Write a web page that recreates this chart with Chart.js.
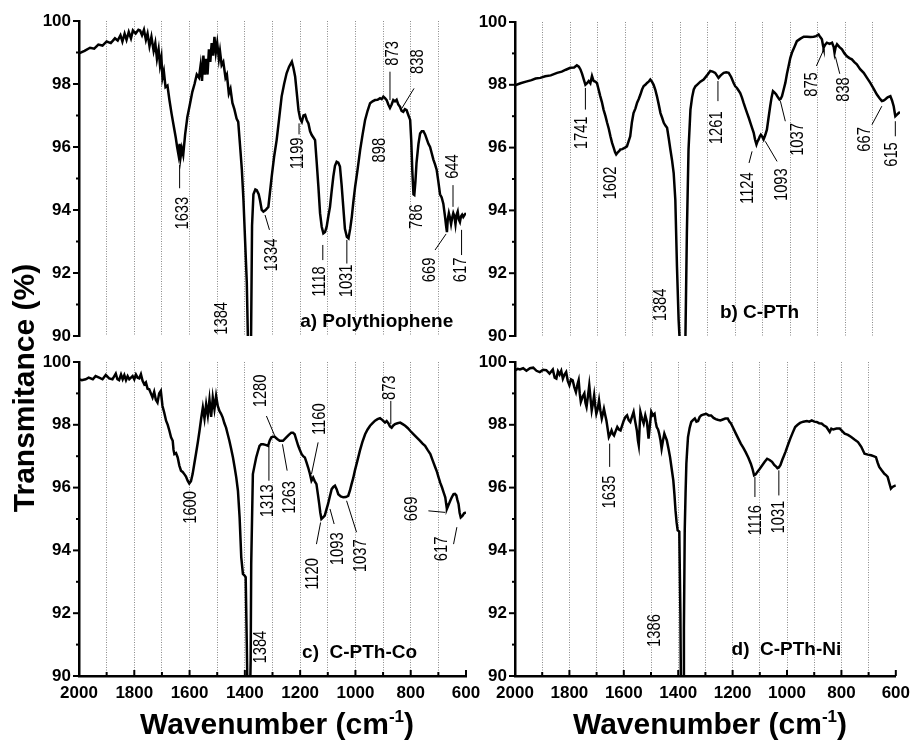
<!DOCTYPE html>
<html>
<head>
<meta charset="utf-8">
<script src="https://cdn.jsdelivr.net/npm/chart.js@4.4.1/dist/chart.umd.min.js"></script>
<style>
  body { margin: 0; background: #fff; }
  #wrap { position: relative; width: 917px; height: 743px; overflow: hidden; font-family: 'Liberation Sans', Arial, sans-serif; }
  #wrap canvas { position: absolute; left: 0; top: 0; }
  .xtitle { position: absolute; width: 400px; text-align: center; top: 709px; font-weight: bold; font-size: 30px; line-height: 30px; }
  .xtitle sup { font-size: 17px; vertical-align: 12px; line-height: 0; }
  #ytitle { position: absolute; left: -126px; top: 373px; width: 300px; height: 30px; text-align: center; font-weight: bold; font-size: 30px; line-height: 30px; transform: rotate(-90deg); }
</style>
</head>
<body>
<div id="wrap">
  <canvas id="chartA" width="917" height="743"></canvas>
  <canvas id="chartB" width="917" height="743"></canvas>
  <canvas id="chartC" width="917" height="743"></canvas>
  <canvas id="chartD" width="917" height="743"></canvas>
  <div id="ytitle">Transmitance (%)</div>
  <div class="xtitle" style="left:77px">Wavenumber (cm<sup>-1</sup>)</div>
  <div class="xtitle" style="left:510px">Wavenumber (cm<sup>-1</sup>)</div>
</div>
<script>
// spectra: wavenumber (cm-1) and transmittance (%)
let wnA = [2000,1980,1960,1945,1930,1915,1900,1885,1870,1860,1850,1843,1835,1828,1820,1812,1805,1795,1785,1779,1772,1765,1758,1752,1745,1738,1730,1724,1718,1712,1707,1702,1698,1693,1687,1680,1673,1665,1658,1650,1645,1640,1636,1633,1628,1623,1616,1608,1600,1590,1582,1574,1566,1560,1555,1550,1545,1540,1535,1530,1525,1520,1515,1510,1505,1500,1494,1490,1484,1478,1470,1465,1458,1452,1445,1438,1430,1424,1417,1411,1405,1399,1393,1388,1383,1378,1374,1369,1362,1357,1350,1345,1339,1333,1325,1315,1303,1294,1285,1276,1267,1258,1249,1240,1230,1224,1218,1212,1206,1200,1194,1188,1182,1176,1170,1164,1158,1152,1146,1140,1134,1128,1122,1116,1110,1104,1098,1092,1086,1080,1074,1068,1062,1056,1050,1044,1038,1031,1025,1019,1013,1007,1001,992,983,974,965,956,947,938,929,920,911,905,899,893,887,881,875,869,863,857,851,845,839,833,827,821,815,808,802,798,794,790,787,783,779,772,766,760,754,748,742,736,730,724,718,712,706,700,694,688,682,676,672,669,666,662,658,654,650,646,642,638,634,630,626,622,618,614,610,605,600];
let trA = [98.97,99.05,99.15,99.12,99.25,99.22,99.35,99.3,99.45,99.38,99.55,99.35,99.6,99.4,99.65,99.45,99.7,99.6,99.72,99.7,99.55,99.72,99.4,99.6,99.2,99.5,99.05,99.3,98.8,99.1,98.6,98.85,98.2,98.4,97.9,97.95,97.5,97.05,96.7,96.3,96.0,95.75,96.1,95.65,95.95,95.75,96.4,96.95,97.3,97.75,98.0,98.3,98.2,98.6,98.1,98.9,98.3,98.8,98.3,99.1,98.7,99.3,98.9,99.5,99.0,99.3,98.8,99.05,98.6,98.7,98.2,98.3,97.7,97.85,97.4,97.2,96.9,96.8,96.0,95.3,94.3,93.0,91.7,89.5,88.5,89.5,93.5,94.5,94.65,94.63,94.5,94.3,94.0,93.95,94.0,94.1,95.05,95.7,96.22,96.9,97.6,98.0,98.34,98.55,98.71,98.5,98.23,97.7,97.17,96.9,96.8,97.0,97.02,96.85,96.75,96.5,96.38,96.3,96.22,95.5,94.74,93.9,93.47,93.26,93.3,93.47,93.8,94.1,94.6,95.06,95.4,95.53,95.5,95.38,94.8,94.1,93.4,93.15,93.1,93.4,93.79,94.3,94.74,95.3,95.9,96.4,96.86,97.15,97.39,97.45,97.49,97.5,97.55,97.52,97.6,97.55,97.49,97.35,97.24,97.35,97.49,97.45,97.5,97.35,97.28,97.15,97.12,97.2,97.17,97.0,96.86,96.2,95.2,94.5,94.48,94.9,95.5,96.1,96.43,96.5,96.5,96.4,96.25,96.1,96.0,95.8,95.6,95.45,95.27,94.9,94.5,94.4,94.2,93.8,93.5,93.3,93.7,93.9,93.75,93.55,93.75,93.9,93.8,93.55,93.85,93.95,93.7,93.62,93.8,93.85,93.78,93.85,93.9];

let wnB = [2000,1980,1960,1940,1925,1908,1890,1870,1847,1830,1815,1799,1785,1775,1768,1762,1756,1750,1744,1738,1732,1726,1720,1714,1708,1702,1696,1690,1684,1678,1671,1665,1659,1653,1647,1641,1636,1632,1626,1620,1617,1610,1600,1593,1587,1581,1575,1569,1562,1556,1550,1544,1538,1532,1526,1520,1514,1508,1502,1496,1490,1484,1478,1471,1465,1459,1453,1447,1441,1435,1429,1423,1417,1411,1405,1399,1393,1387,1381,1375,1369,1362,1356,1350,1344,1338,1326,1314,1302,1290,1281,1272,1266,1260,1252,1241,1232,1223,1214,1205,1199,1193,1187,1181,1175,1169,1162,1156,1150,1144,1138,1132,1127,1122,1118,1114,1110,1106,1101,1096,1090,1084,1078,1072,1067,1062,1056,1050,1044,1038,1034,1029,1023,1017,1011,1005,999,993,984,975,962,950,938,926,914,905,896,890,884,880,878,872,866,856,847,841,838,834,829,820,811,802,793,784,775,766,757,745,732,720,708,696,684,675,666,660,654,645,635,629,623,619,617,611,605,600];
let trB = [97.98,98.05,98.1,98.15,98.2,98.22,98.27,98.3,98.38,98.42,98.48,98.54,98.55,98.62,98.58,98.49,98.35,98.17,98.0,98.05,98.12,98.05,98.28,98.12,98.1,98.06,97.85,97.64,97.45,97.21,97.0,96.79,96.6,96.36,96.15,95.99,95.85,95.78,95.85,95.9,95.94,95.95,96.0,96.04,96.2,96.36,96.8,97.1,97.25,97.43,97.55,97.69,97.85,97.96,98.0,98.06,98.1,98.17,98.1,98.0,97.85,97.64,97.4,97.1,96.95,96.79,96.7,96.63,96.3,95.94,95.6,95.19,94.34,92.21,90.51,89.5,88.5,88.5,89.5,93.28,95.94,97.21,97.6,97.85,97.95,98.0,98.1,98.17,98.3,98.44,98.42,98.38,98.3,98.22,98.3,98.38,98.4,98.38,98.25,98.06,97.95,97.9,97.82,97.74,97.6,97.43,97.25,97.1,96.95,96.79,96.63,96.47,96.25,96.1,96.2,96.26,96.35,96.41,96.35,96.26,96.4,96.57,96.95,97.32,97.6,97.8,97.75,97.69,97.6,97.53,97.55,97.64,97.85,98.06,98.35,98.6,98.85,99.02,99.2,99.39,99.47,99.53,99.53,99.52,99.53,99.55,99.6,99.52,99.45,99.25,99.18,99.28,99.34,99.3,99.34,99.2,99.02,99.2,99.29,99.2,99.13,99.0,98.91,98.85,98.81,98.72,98.65,98.5,98.38,98.22,98.06,97.88,97.69,97.58,97.48,97.5,97.53,97.6,97.64,97.5,97.32,97.1,97.0,97.05,97.1,97.13];

let wnC = [2000,1990,1976,1965,1950,1940,1927,1915,1903,1891,1879,1867,1861,1855,1848,1842,1836,1830,1824,1818,1812,1806,1800,1794,1788,1782,1776,1770,1764,1758,1752,1746,1740,1734,1728,1722,1716,1710,1704,1698,1692,1685,1679,1673,1667,1661,1658,1655,1649,1643,1637,1631,1625,1619,1613,1607,1601,1595,1589,1583,1577,1570,1564,1558,1552,1546,1540,1534,1528,1522,1516,1510,1504,1498,1492,1486,1480,1474,1468,1462,1456,1450,1443,1437,1431,1425,1419,1413,1407,1401,1397,1393,1389,1383,1379,1377,1371,1365,1359,1353,1347,1341,1334,1325,1316,1310,1304,1298,1292,1283,1274,1262,1250,1241,1232,1226,1220,1213,1207,1201,1195,1189,1183,1177,1171,1165,1159,1153,1147,1141,1136,1131,1127,1123,1117,1111,1105,1099,1093,1086,1080,1074,1068,1062,1053,1044,1035,1026,1020,1014,1008,1002,993,984,975,965,956,947,938,929,920,911,902,893,887,881,875,869,863,857,848,838,829,820,811,802,793,784,775,766,757,748,739,729,720,711,705,699,693,687,681,675,672,669,663,657,651,645,640,635,631,627,623,619,613,607,600];
let trC = [99.45,99.42,99.45,99.5,99.45,99.55,99.5,99.45,99.59,99.48,99.45,99.63,99.45,99.42,99.6,99.45,99.58,99.42,99.55,99.45,99.5,99.55,99.45,99.6,99.5,99.48,99.61,99.4,99.29,99.35,99.15,99.13,99.0,98.87,99.05,98.8,98.71,99.0,99.08,98.6,98.4,98.13,98.0,97.81,97.6,97.49,97.2,97.07,97.1,96.96,96.7,96.54,96.5,96.43,96.35,96.22,96.13,96.2,96.43,96.75,97.07,97.45,97.81,98.2,98.55,98.2,98.65,98.3,98.8,98.25,98.87,98.5,98.92,98.6,98.44,98.35,98.23,98.05,97.91,97.7,97.49,97.25,96.96,96.65,96.32,95.9,95.05,93.78,93.25,93.2,93.15,91.0,88.5,88.5,90.5,93.57,96.43,96.7,96.96,97.15,97.33,97.38,97.38,97.36,97.33,97.5,97.6,97.62,97.62,97.55,97.49,97.49,97.6,97.68,97.75,97.75,97.7,97.5,97.33,97.2,97.07,97.0,96.96,96.8,96.64,96.45,96.22,96.32,96.2,96.11,95.8,95.48,95.2,95.0,95.05,95.11,95.3,95.48,95.7,95.95,96.02,96.06,95.95,95.79,95.72,95.69,95.7,95.74,95.9,96.11,96.3,96.54,96.85,97.17,97.45,97.7,97.85,97.97,98.05,98.13,98.18,98.21,98.15,98.07,98.12,98.05,97.95,97.91,97.98,98.02,98.05,98.07,98.02,97.97,97.9,97.81,97.73,97.65,97.57,97.49,97.4,97.33,97.2,97.07,96.85,96.64,96.5,96.32,96.15,96.01,95.85,95.69,95.5,95.32,95.45,95.58,95.7,95.79,95.8,95.75,95.6,95.48,95.2,95.05,95.1,95.18,95.21];

let wnD = [2000,1990,1982,1970,1958,1945,1933,1921,1909,1897,1885,1873,1861,1854,1848,1842,1836,1830,1824,1818,1812,1806,1800,1794,1788,1782,1776,1770,1766,1762,1758,1751,1745,1741,1737,1732,1727,1722,1718,1713,1709,1705,1701,1696,1691,1686,1681,1677,1673,1668,1664,1659,1655,1650,1645,1640,1636,1630,1624,1618,1612,1606,1600,1594,1588,1582,1576,1570,1564,1558,1552,1548,1545,1542,1539,1533,1527,1521,1515,1509,1504,1499,1493,1487,1483,1479,1474,1470,1465,1461,1456,1451,1446,1442,1436,1430,1424,1418,1414,1410,1406,1402,1396,1392,1389,1382,1379,1376,1373,1370,1367,1364,1358,1352,1346,1339,1333,1327,1321,1315,1306,1297,1288,1279,1270,1262,1255,1245,1236,1227,1218,1212,1206,1197,1188,1179,1170,1161,1152,1142,1133,1127,1121,1115,1109,1100,1091,1082,1073,1064,1055,1047,1039,1035,1030,1024,1018,1012,1006,997,988,979,970,961,952,940,927,918,909,900,891,882,873,864,855,849,843,837,830,818,806,797,788,776,764,752,739,727,715,703,691,682,673,667,661,652,642,636,630,624,618,612,606,600];
let trD = [99.73,99.78,99.76,99.8,99.72,99.8,99.82,99.72,99.68,99.75,99.74,99.63,99.76,99.5,99.47,99.7,99.6,99.72,99.47,99.6,99.68,99.4,99.26,99.45,99.42,99.2,99.04,99.3,99.42,99.0,98.73,98.9,99.0,98.7,98.57,98.9,99.26,98.8,98.46,98.7,98.94,98.6,98.35,98.5,98.78,98.45,98.2,98.35,98.51,98.3,98.14,97.85,97.61,97.7,97.82,97.7,97.66,97.8,97.93,97.85,97.82,97.98,98.14,98.25,98.3,98.15,98.09,98.25,98.41,98.1,97.82,97.5,97.35,97.9,98.41,98.2,98.04,98.3,98.1,97.56,98.0,98.41,98.3,98.35,98.1,97.93,97.85,97.72,97.5,97.24,97.5,97.72,97.6,97.51,97.25,96.97,96.6,96.23,95.8,95.28,94.9,94.64,94.6,92.0,88.5,88.5,91.5,94.64,95.8,96.76,97.2,97.61,97.9,98.09,98.15,98.2,98.1,98.12,98.25,98.3,98.33,98.35,98.3,98.3,98.22,98.18,98.16,98.14,98.17,98.2,98.2,98.1,98.04,97.88,97.72,97.56,97.4,97.27,97.13,96.95,96.76,96.6,96.39,96.42,96.5,96.6,96.71,96.82,96.92,96.88,96.82,96.72,96.66,96.62,96.64,96.72,96.87,97.0,97.13,97.35,97.56,97.75,97.93,98.0,98.06,98.1,98.12,98.1,98.14,98.1,98.09,98.05,98.04,97.98,97.93,97.85,97.77,97.88,97.85,97.88,97.88,97.8,97.72,97.68,97.61,97.53,97.45,97.3,97.08,97.05,97.03,97.0,96.97,96.8,96.66,96.55,96.44,96.4,96.34,96.15,95.97,96.02,96.05,96.07];

// peak labels: text, x, y, optional leader line [x1, y1, x2, y2]
let peaksA = [
  ['1633', 1623, 93.9, [1636, 95.43, 1636, 94.69]],
  ['1384', 1484, 90.56],
  ['1334', 1303, 92.57, [1327, 93.84, 1311, 93.37]],
  ['1199', 1206, 95.8, [1204, 96.75, 1204, 96.4]],
  ['1118', 1128, 91.73, [1118, 92.89, 1118, 92.41]],
  ['1031', 1031, 91.75, [1031, 93.05, 1031, 92.3]],
  ['898', 911, 95.9],
  ['873', 863, 98.97, [875, 98.39, 875, 97.49]],
  ['838', 772, 98.71, [788, 97.86, 832, 97.23]],
  ['786', 778, 93.79],
  ['644', 646, 95.38, [647, 94.79, 647, 94.1]],
  ['669', 730, 92.1, [712, 92.73, 672, 93.24]],
  ['617', 618, 92.1, [616, 93.37, 616, 92.57]]
];
let peaksB = [
  ['1741', 1756, 96.47, [1744, 97.9, 1744, 97.21]],
  ['1602', 1650, 94.87],
  ['1384', 1469, 90.99],
  ['1261', 1266, 96.63, [1262, 98.12, 1262, 97.48]],
  ['1124', 1153, 94.71, [1149, 95.51, 1138, 95.88]],
  ['1093', 1029, 94.82, [1047, 95.56, 1090, 96.2]],
  ['1037', 969, 96.26, [1017, 96.84, 1035, 97.48]],
  ['875', 920, 98.01, [904, 98.6, 880, 99.07]],
  ['838', 805, 97.85, [835, 98.9, 819, 98.35]],
  ['667', 726, 96.26, [702, 96.73, 666, 97.32]],
  ['615', 629, 95.78, [617, 96.84, 617, 96.36]]
];
let peaksC = [
  ['1600', 1595, 95.37],
  ['1384', 1341, 90.92],
  ['1313', 1316, 95.58, [1313, 97.33, 1313, 96.22]],
  ['1280', 1341, 99.08, [1322, 98.28, 1292, 97.65]],
  ['1263', 1238, 95.69, [1247, 96.54, 1264, 97.38]],
  ['1160', 1129, 98.18, [1135, 97.44, 1159, 96.43]],
  ['1120', 1153, 93.25, [1141, 94.2, 1126, 94.89]],
  ['1093', 1062, 94.05, [1077, 94.84, 1092, 95.32]],
  ['1037', 980, 93.83, [996, 94.58, 1032, 95.58]],
  ['873', 875, 99.18, [872, 98.76, 872, 98.02]],
  ['669', 796, 95.32, [736, 95.26, 675, 95.21]],
  ['617', 687, 94.05, [645, 94.2, 633, 94.74]]
];
let peaksD = [
  ['1635', 1649, 95.86, [1652, 97.4, 1652, 96.66]],
  ['1386', 1487, 91.45],
  ['1116', 1115, 94.96, [1118, 96.34, 1118, 95.7]],
  ['1031', 1030, 95.06, [1030, 96.55, 1030, 95.75]]
];

Chart.defaults.font.family = "'Liberation Sans', Arial, sans-serif";
Chart.defaults.color = '#000';

// draws tick marks, rotated peak labels and the panel caption
let decorate = {
  id: 'decorate',
  afterDraw(chart, args, opts) {
    let ctx = chart.ctx;
    let xs = chart.scales.x, ys = chart.scales.y;
    let area = chart.chartArea;
    ctx.save();
    ctx.strokeStyle = '#000';
    ctx.lineWidth = 2;
    for (let v = 90; v <= 100; v++) {
      let py = ys.getPixelForValue(v);
      let len = v % 2 === 0 ? 6 : 3;
      ctx.beginPath(); ctx.moveTo(area.left - len, py); ctx.lineTo(area.left, py); ctx.stroke();
    }
    if (opts.xTicks) {
      for (let v = 600; v <= 2000; v += 100) {
        let px = xs.getPixelForValue(v);
        let len = v % 200 === 0 ? 6 : 4;
        ctx.beginPath(); ctx.moveTo(px, area.bottom); ctx.lineTo(px, area.bottom - len); ctx.stroke();
      }
    }
    ctx.lineWidth = 1;
    ctx.fillStyle = '#000';
    opts.peaks.forEach(function(p) {
      if (p[3]) {
        ctx.beginPath();
        ctx.moveTo(xs.getPixelForValue(p[3][0]), ys.getPixelForValue(p[3][1]));
        ctx.lineTo(xs.getPixelForValue(p[3][2]), ys.getPixelForValue(p[3][3]));
        ctx.stroke();
      }
      ctx.save();
      ctx.translate(xs.getPixelForValue(p[1]), ys.getPixelForValue(p[2]));
      ctx.rotate(-Math.PI / 2);
      ctx.scale(0.82, 1);
      ctx.font = "18px 'Liberation Sans', Arial, sans-serif";
      ctx.textAlign = 'center';
      ctx.textBaseline = 'middle';
      ctx.fillText(p[0], 0, 0);
      ctx.restore();
    });
    ctx.font = "bold 19px 'Liberation Sans', Arial, sans-serif";
    ctx.textAlign = 'left';
    ctx.textBaseline = 'middle';
    ctx.fillText(opts.caption[0], xs.getPixelForValue(opts.caption[1]), ys.getPixelForValue(opts.caption[2]));
    ctx.restore();
  }
};

function makePanel(id, wn, tr, peaks, caption, pad, bottomAxis) {
  let points = wn.map(function(w, i) { return {x: w, y: tr[i]}; });
  return new Chart(document.getElementById(id), {
    type: 'line',
    data: {
      datasets: [{
        data: points,
        borderColor: '#000',
        borderWidth: 2.5,
        pointRadius: 0,
        tension: 0,
        fill: false
      }]
    },
    options: {
      responsive: false,
      animation: false,
      events: [],
      layout: { padding: pad },
      plugins: {
        legend: { display: false },
        tooltip: { enabled: false },
        decorate: { peaks: peaks, caption: caption, xTicks: bottomAxis }
      },
      scales: {
        x: {
          type: 'linear',
          min: 600,
          max: 2000,
          reverse: true,
          afterFit: function(s) { s.height = bottomAxis ? 24 : 0; },
          grid: {
            drawTicks: false,
            lineWidth: 1,
            color: function(c) {
              if (c.tick && (c.tick.value === 600 || c.tick.value === 2000)) return 'rgba(0,0,0,0)';
              return '#8a8a8a';
            }
          },
          border: { display: bottomAxis, color: '#000', width: 2.5, dash: [1, 1.5] },
          ticks: {
            display: bottomAxis,
            stepSize: 100,
            autoSkip: false,
            maxRotation: 0,
            padding: 7,
            font: { size: 17, weight: 'bold' },
            callback: function(v) { return v % 200 === 0 ? v : ''; }
          }
        },
        y: {
          min: 90,
          max: 100,
          afterFit: function(s) { s.width = 40; },
          grid: { display: false, drawTicks: false },
          border: { display: true, color: '#000', width: 2.5 },
          ticks: {
            stepSize: 1,
            autoSkip: false,
            padding: 8,
            font: { size: 17, weight: 'bold' },
            callback: function(v) { return v % 2 === 0 ? v : ''; }
          }
        }
      }
    },
    plugins: [decorate]
  });
}

makePanel('chartA', wnA, trA, peaksA, ['a) Polythiophene', 1200, 90.44], {left: 39, right: 451, top: 21, bottom: 407}, false);
makePanel('chartB', wnB, trB, peaksB, ['b) C-PTh', 1255, 90.73], {left: 475, right: 17, top: 22, bottom: 407}, false);
makePanel('chartC', wnC, trC, peaksC, ['c)  C-PTh-Co', 1193, 90.73], {left: 39, right: 451, top: 362, bottom: 43}, true);
makePanel('chartD', wnD, trD, peaksD, ['d)  C-PTh-Ni', 1204, 90.83], {left: 475, right: 17, top: 362, bottom: 43}, true);
</script>
</body>
</html>
